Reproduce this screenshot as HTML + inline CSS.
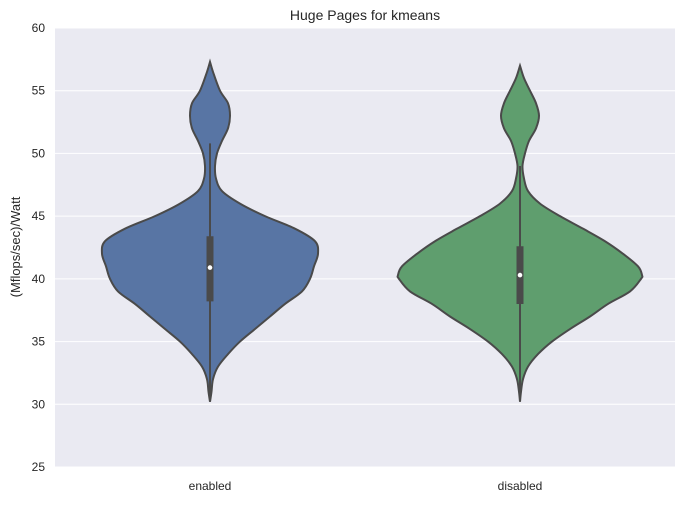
<!DOCTYPE html>
<html><head><meta charset="utf-8"><style>
body{margin:0;background:#fff;font-family:"Liberation Sans",Arial,sans-serif}
svg text{font-family:"Liberation Sans",Arial,sans-serif;fill:#262626}
</style></head><body>
<svg id="chart" width="685" height="502" viewBox="0 0 685 502" xmlns="http://www.w3.org/2000/svg">
<rect x="55" y="28" width="620" height="439" fill="#eaeaf2"/>
<g id="grid"></g>
<g id="violins"></g>
<g id="yticks"></g>
<g id="xticks"></g>
<text x="365" y="20" text-anchor="middle" font-size="14">Huge Pages for kmeans</text>
<text transform="translate(20,247) rotate(-90)" text-anchor="middle" font-size="13">(Mflops/sec)/Watt</text>
</svg>
<script>
const categories=["enabled","disabled"];
const yTicks=[25,30,35,40,45,50,55,60];
const enabledVals=[57.3,56.5,55,54,53,52,51,50,49,48,47,46,45,44,43,42,41,40,39,38,37,36,35,34,33,32,31,30.2];
const enabledDens=[0,3,10,18,20,18,12,7,5,6,12,30,55,85,105,108,104,100,92,75,60,45,30,18,8,3,1.5,0];
const disabledVals=[57,56,55,54,53,52,51,50,49,48,47,46,45,44,43,42,41,40.3,40,39,38,37,36,35,34,33,32,31,30.2];
const disabledDens=[0,4,10,16,19,16,9,5,2.5,4,8,20,40,63,85,103,118,122,121,110,88,70,50,32,18,8,3,1,0];
const whiskerLow=[30.2,30.5], whiskerHigh=[50.8,49];
const q1=[38.2,38], q3=[43.4,42.6], medians=[40.9,40.3];
const colors=["#5875a4","#5f9e6e"];
const NS="http://www.w3.org/2000/svg";
const y=v=>28+(60-v)*(439/35);
const x=i=>210+i*310;
function mk(t,a,p){const e=document.createElementNS(NS,t);for(const k in a)e.setAttribute(k,a[k]);p.appendChild(e);return e;}
const grid=document.getElementById('grid'),yt=document.getElementById('yticks'),xt=document.getElementById('xticks'),vg=document.getElementById('violins');
yTicks.forEach(v=>{
 const l=mk('line',{x1:55,x2:675,y1:y(v),y2:y(v),stroke:'#fff','stroke-width':1},grid);
 
 
 const t=mk('text',{x:45,y:y(v)+4,'text-anchor':'end','font-size':12},yt);t.textContent=v;
 
 
});
categories.forEach((c,i)=>{
 const t=mk('text',{x:x(i),y:490,'text-anchor':'middle','font-size':12},xt);t.textContent=c;
 
 
});
function smooth(pts){let d='M'+pts[0][0]+','+pts[0][1];
 for(let i=0;i<pts.length-1;i++){const p0=pts[i-1]||pts[i],p1=pts[i],p2=pts[i+1],p3=pts[i+2]||p2;
  d+=' C'+(p1[0]+(p2[0]-p0[0])/6)+','+(p1[1]+(p2[1]-p0[1])/6)+' '+(p2[0]-(p3[0]-p1[0])/6)+','+(p2[1]-(p3[1]-p1[1])/6)+' '+p2[0]+','+p2[1];}
 return d;}
[[enabledVals,enabledDens],[disabledVals,disabledDens]].forEach(([vals,dens],i)=>{
 const cx=x(i);
 const right=vals.map((v,k)=>[cx+dens[k],y(v)]);
 const left=vals.map((v,k)=>[cx-dens[k],y(v)]).reverse();
 const d=smooth(right)+' '+smooth(left).replace('M','L')+'Z';
 const p=mk('path',{d:d,fill:colors[i],stroke:'#4a4a4a','stroke-width':2},vg);
 
 
 const w=mk('line',{x1:cx,x2:cx,y1:y(whiskerLow[i]),y2:y(whiskerHigh[i]),stroke:'#4a4a4a','stroke-width':2},vg);
 
 
 const b=mk('line',{x1:cx,x2:cx,y1:y(q1[i]),y2:y(q3[i]),stroke:'#4a4a4a','stroke-width':7},vg);
 
 
 const m=mk('circle',{cx:cx,cy:y(medians[i]),r:2.3,fill:'#fff'},vg);
 
 
});
</script>
</body></html>
